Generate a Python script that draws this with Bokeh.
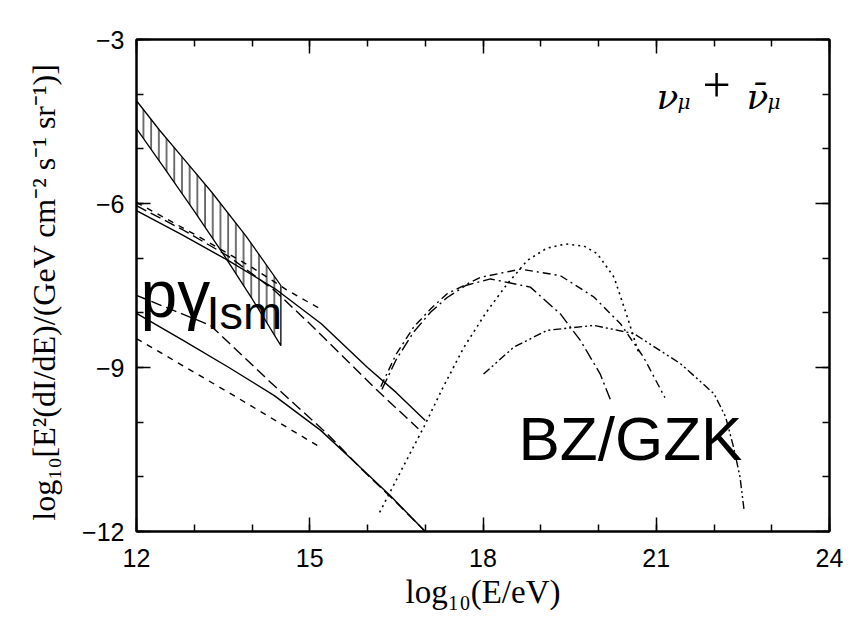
from bokeh.embed import file_html
from bokeh.models import FixedTicker, Label, LinearAxis, Range1d, Title
from bokeh.plotting import figure
from bokeh.resources import INLINE

# ---- tick positions ----------------------------------------------------
x_major = [12, 15, 18, 21, 24]
x_minor = [12, 13, 14, 15, 16, 17, 18, 19, 20, 21, 22, 23, 24]
y_major = [-12, -9, -6, -3]
y_minor = [-12, -11, -10, -9, -8, -7, -6, -5, -4, -3]
y_tick_text = {-12: "\u221212", -9: "\u22129", -6: "\u22126", -3: "\u22123"}

# ---- p-gamma (interstellar medium) band --------------------------------
band_upper_x = [12.0, 12.4, 12.8, 13.3, 13.9, 14.5]
band_upper_y = [-4.12, -4.66, -5.16, -5.79, -6.60, -7.50]
band_lower_x = [12.0, 12.5, 13.0, 13.5, 14.0, 14.5]
band_lower_y = [-4.63, -5.38, -6.14, -6.92, -7.74, -8.60]

# ---- p-gamma model curves ----------------------------------------------
upper_solid_x = [12.0, 12.8, 13.6, 14.4, 15.2, 16.0, 16.5, 17.0]
upper_solid_y = [-6.13, -6.58, -7.05, -7.56, -8.20, -9.00, -9.46, -9.97]

upper_longdash_x = [12.0, 12.8, 13.6, 14.4, 15.0, 15.5, 16.2, 16.88]
upper_longdash_y = [-6.04, -6.48, -6.97, -7.60, -8.20, -8.72, -9.45, -10.12]

upper_shortdash_x = [12.0, 13.0, 14.0, 14.6, 15.22]
upper_shortdash_y = [-5.98, -6.56, -7.17, -7.58, -7.95]

lower_longdash_x = [12.0, 12.65, 13.28, 13.8, 14.3, 14.8, 15.3, 15.9, 16.5, 17.0]
lower_longdash_y = [-7.68, -7.96, -8.23, -8.75, -9.25, -9.73, -10.21, -10.86, -11.47, -12.0]

lower_solid_x = [12.0, 12.8, 13.6, 14.38, 15.19, 15.8, 16.4, 17.0]
lower_solid_y = [-8.01, -8.50, -9.00, -9.51, -10.15, -10.75, -11.35, -12.0]

lower_shortdash_x = [12.0, 13.6, 15.2]
lower_shortdash_y = [-8.47, -9.46, -10.47]

# ---- BZ/GZK curves -----------------------------------------------------
gzk_dot_x = [16.21, 16.6, 16.98, 17.3, 17.67, 18.05, 18.42, 18.77, 19.1, 19.43,
             19.75, 19.98, 20.27, 20.5, 20.7]
gzk_dot_y = [-11.65, -10.85, -10.08, -9.38, -8.63, -8.0, -7.47, -7.04, -6.82, -6.74,
             -6.78, -6.92, -7.35, -8.08, -8.75]

gzk_dashdot_x = [16.23, 16.5, 16.8, 17.1, 17.38, 17.96, 18.65, 19.34, 19.92, 20.38,
                 20.78, 21.15]
gzk_dashdot_y = [-9.35, -8.75, -8.26, -7.92, -7.65, -7.35, -7.20, -7.32, -7.71, -8.20,
                 -8.81, -9.55]

gzk_longdashdot_x = [16.25, 16.5, 16.8, 17.1, 17.38, 17.7, 18.13, 18.82, 19.34, 19.69,
                     20.03, 20.21]
gzk_longdashdot_y = [-9.40, -8.85, -8.35, -7.98, -7.72, -7.50, -7.38, -7.53, -8.02, -8.51,
                     -9.12, -9.60]

gzk_dashdotdot_x = [18.01, 18.53, 19.11, 19.92, 20.61, 21.42, 22.0, 22.2, 22.34, 22.45,
                    22.52]
gzk_dashdotdot_y = [-9.12, -8.63, -8.32, -8.23, -8.38, -8.93, -9.48, -9.90, -10.46, -11.0,
                    -11.6]

SANS = "Liberation Sans"
SERIF = "Liberation Serif"
GREEK = "DejaVu Serif"

p = figure(
    width=863,
    height=620,
    x_range=Range1d(12, 24),
    y_range=Range1d(-12, -3),
    output_backend="svg",
    toolbar_location=None,
    min_border_left=136,
    min_border_right=34,
    min_border_top=39,
    min_border_bottom=89,
    background_fill_color="white",
    border_fill_color="white",
)
p.xgrid.visible = False
p.ygrid.visible = False
p.outline_line_color = "black"
p.outline_line_width = 2


def style_axis(ax, ticks, minor, show_labels):
    ax.ticker = FixedTicker(ticks=ticks, minor_ticks=minor)
    ax.axis_line_color = "black"
    ax.axis_line_width = 2
    ax.major_tick_in = 14
    ax.major_tick_out = 0
    ax.minor_tick_in = 7
    ax.minor_tick_out = 0
    ax.major_tick_line_width = 1.5
    ax.minor_tick_line_width = 1.5
    ax.major_tick_line_color = "black"
    ax.minor_tick_line_color = "black"
    if show_labels:
        ax.major_label_text_font = SANS
        ax.major_label_text_font_size = "25px"
        ax.major_label_text_color = "black"
    else:
        # mirrored tick marks only: blank labels
        ax.major_label_overrides = {t: "" for t in ticks}
        ax.major_label_text_font_size = "10px"
        ax.major_label_standoff = 0


xb = p.xaxis[0]
style_axis(xb, x_major, x_minor, True)
xb.major_label_standoff = 17
xb.axis_label = "log\u2081\u2080(E/eV)"
xb.axis_label_text_font = SERIF
xb.axis_label_text_font_style = "normal"
xb.axis_label_text_font_size = "33px"
xb.axis_label_text_color = "black"
xb.axis_label_standoff = 4

yl = p.yaxis[0]
style_axis(yl, y_major, y_minor, True)
yl.major_label_standoff = 12
yl.major_label_overrides = y_tick_text

top_axis = LinearAxis()
style_axis(top_axis, x_major, x_minor, False)
p.add_layout(top_axis, "above")

right_axis = LinearAxis()
style_axis(right_axis, y_major, y_minor, False)
p.add_layout(right_axis, "right")

# vertical quantity title, pushed towards the top of the frame
y_title = Title(
    text="log\u2081\u2080[E\u00b2(dI/dE)/(GeV  cm\u207b\u00b2  s\u207b\u00b9  sr\u207b\u00b9)]",
    align="right",
    standoff=36,
    text_font=SERIF,
    text_font_style="normal",
    text_font_size="32px",
    text_color="black",
)
p.add_layout(y_title, "left")

# hatched p-gamma band
band_x = band_upper_x + band_lower_x[::-1]
band_y = band_upper_y + band_lower_y[::-1]
p.patch(band_x, band_y, fill_color=None, line_color="black", line_width=1.3,
        hatch_pattern="vertical_line", hatch_color="black", hatch_scale=7.7,
        hatch_weight=1.1)

LW = 1.4
p.line(upper_solid_x, upper_solid_y, line_color="black", line_width=LW)
p.line(upper_longdash_x, upper_longdash_y, line_color="black", line_width=LW,
       line_dash="11 5")
p.line(upper_shortdash_x, upper_shortdash_y, line_color="black", line_width=LW,
       line_dash="6 6")
p.line(lower_longdash_x, lower_longdash_y, line_color="black", line_width=LW,
       line_dash="11 5")
p.line(lower_solid_x, lower_solid_y, line_color="black", line_width=LW)
p.line(lower_shortdash_x, lower_shortdash_y, line_color="black", line_width=LW,
       line_dash="6 6")

p.line(gzk_dot_x, gzk_dot_y, line_color="black", line_width=1.6, line_dash="2 4")
p.line(gzk_dashdot_x, gzk_dashdot_y, line_color="black", line_width=LW,
       line_dash="8 4 2 4")
p.line(gzk_longdashdot_x, gzk_longdashdot_y, line_color="black", line_width=LW,
       line_dash="12 4 2 4")
p.line(gzk_dashdotdot_x, gzk_dashdotdot_y, line_color="black", line_width=LW,
       line_dash="8 3 2 3 2 3")


def add_label(text, x, y, font, size, style="normal", align="left",
              baseline="alphabetic"):
    p.add_layout(Label(x=x, y=y, x_units="screen", y_units="screen", text=text,
                       text_font=font, text_font_size=size, text_font_style=style,
                       text_align=align, text_baseline=baseline,
                       text_color="black"))


# region labels
add_label("p\u03b3", 4, 238, SANS, "66px")
add_label("Ism", 70, 219, SANS, "47px")
add_label("BZ/GZK", 382, 93, SANS, "62px")

# flavour tag
add_label("\u03bd", 520, 435, GREEK, "36px", style="italic")
add_label("\u03bc", 541, 430, GREEK, "20px", style="italic")
add_label("+", 580, 446, SERIF, "50px", align="center", baseline="middle")
add_label("\u03bd\u0304", 610, 435, GREEK, "36px", style="italic")
add_label("\u03bc", 631, 430, GREEK, "20px", style="italic")

open("out.html", "w").write(file_html(p, INLINE))
